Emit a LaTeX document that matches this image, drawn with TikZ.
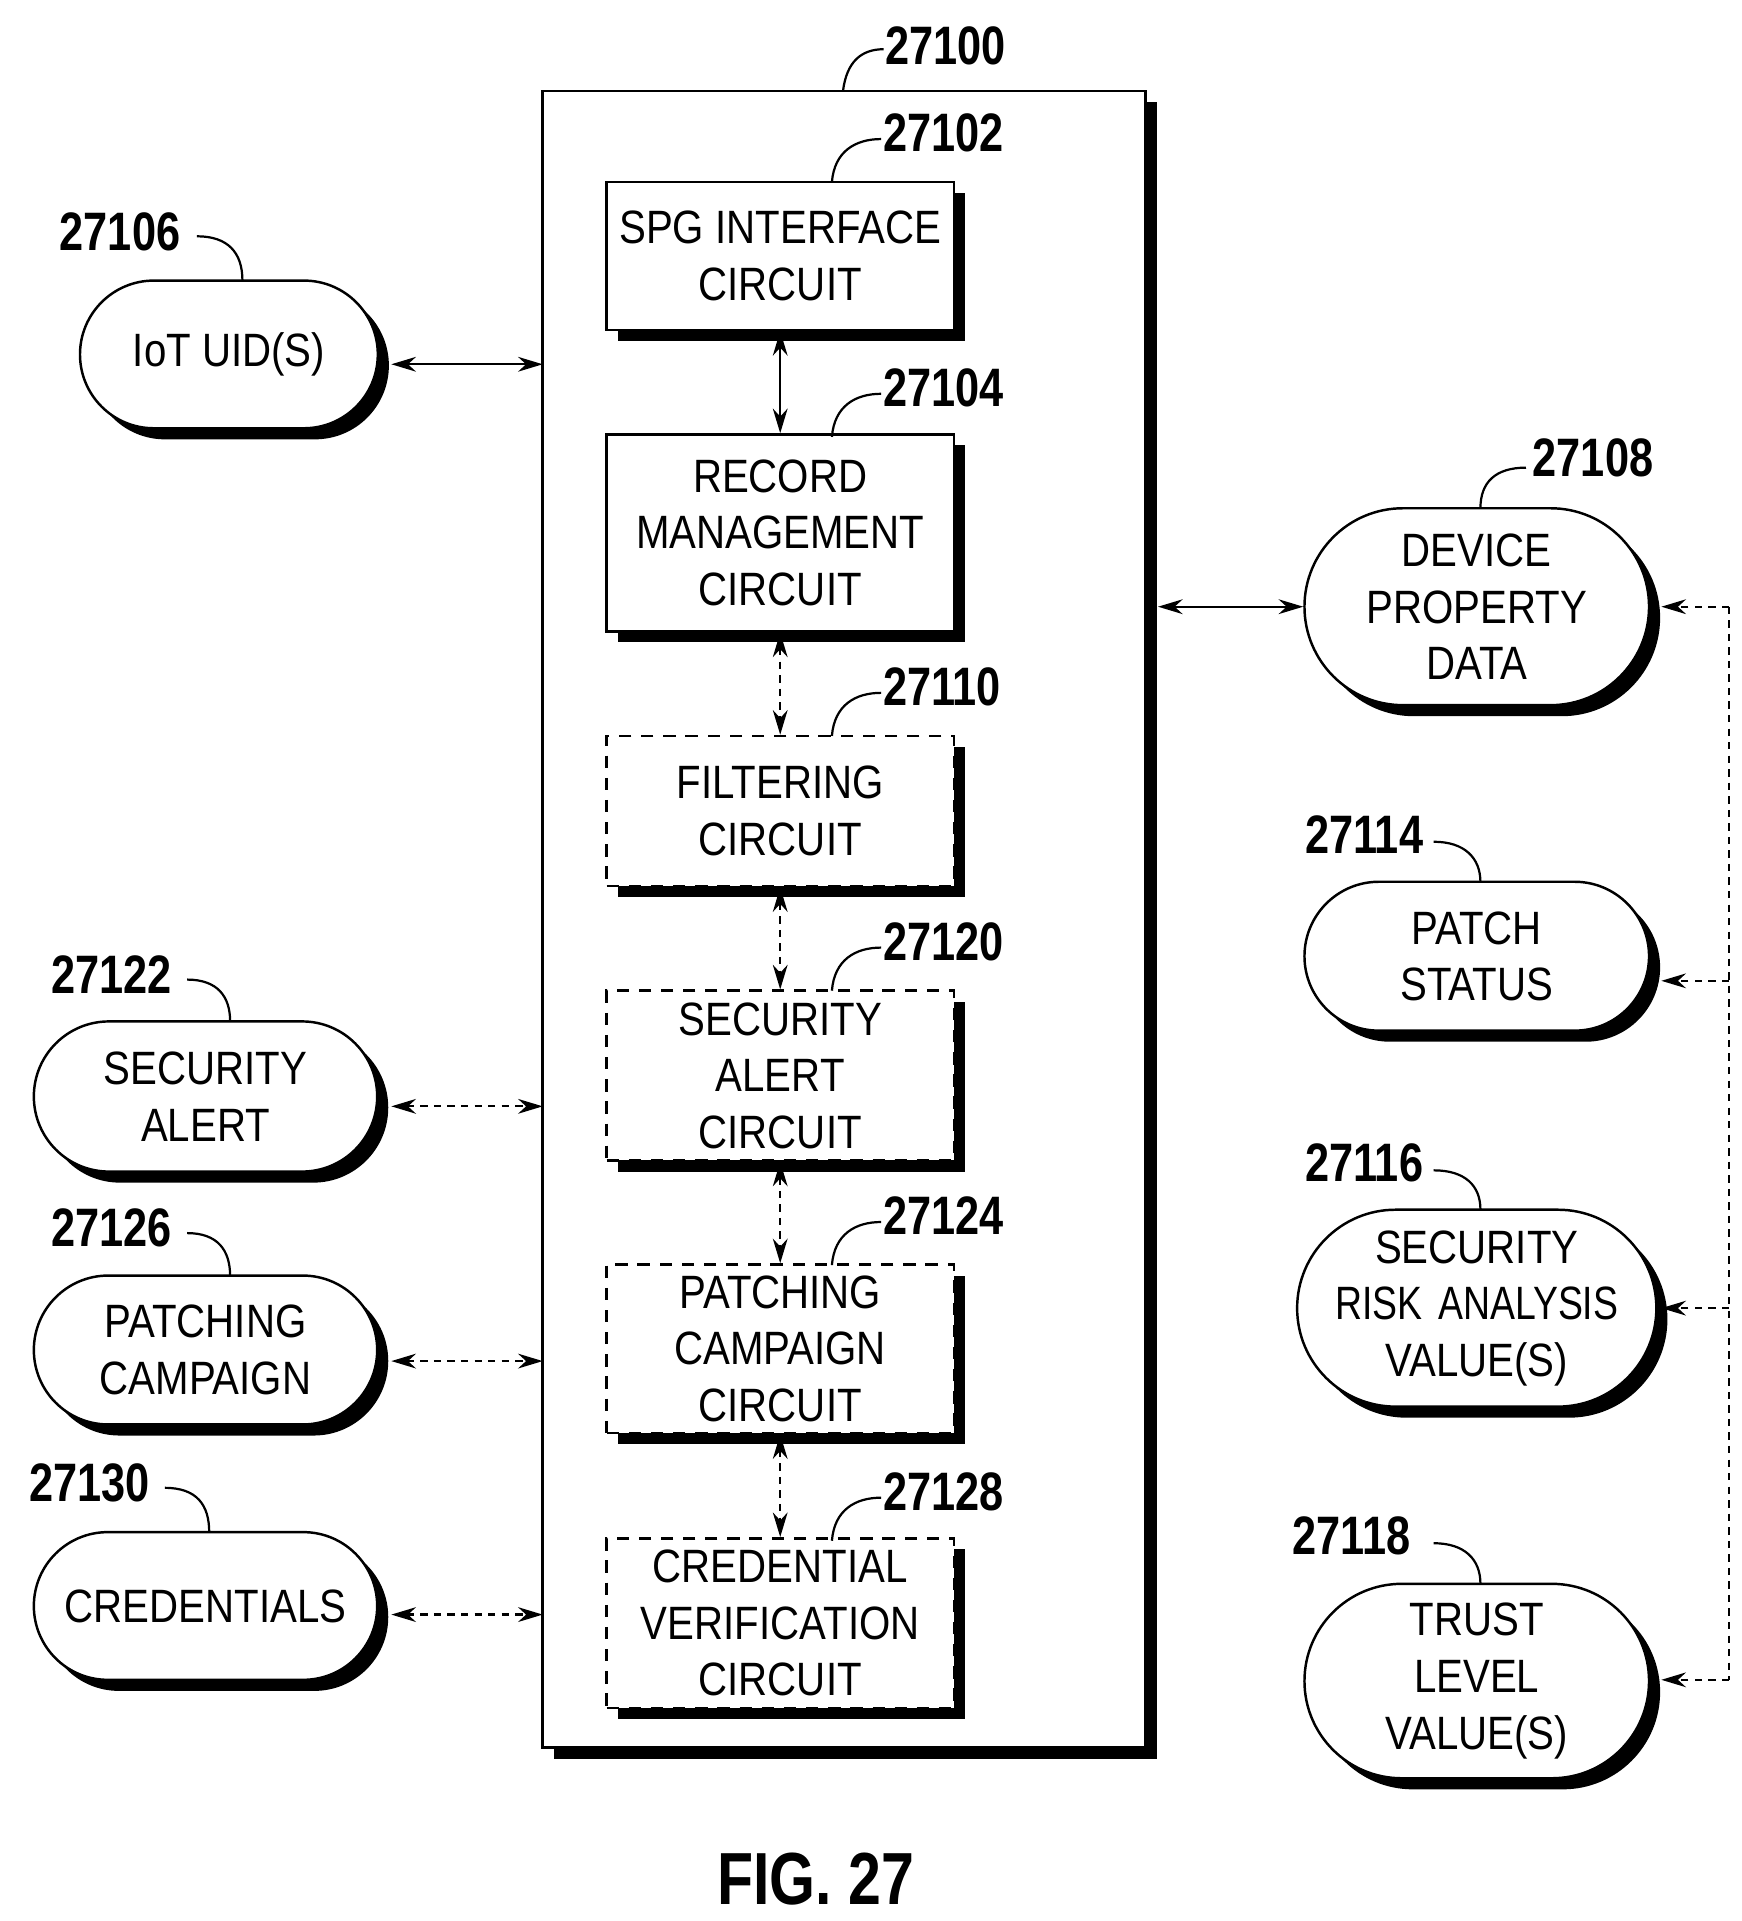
\documentclass[tikz,border=0pt]{standalone}
\usepackage{fontspec}
\setmainfont{Liberation Sans}[FakeStretch=0.86]
\usetikzlibrary{shapes.misc,arrows.meta}
\begin{document}
\begin{tikzpicture}[x=1pt,y=-1pt,
 sh/.style={preaction={fill=black,transform canvas={shift={(9pt,-9pt)}}}},
 box/.style={draw,line width=2pt,fill=white,sh,align=center,inner sep=0pt,font=\fontsize{38}{46}\selectfont},
 dbox/.style={box,dashed,dash pattern=on 10pt off 8pt},
 pill/.style={draw,line width=2pt,fill=white,sh,rounded rectangle,align=center,inner sep=0pt,font=\fontsize{38}{46}\selectfont},
 lab/.style={font=\fontsize{44}{44}\selectfont\bfseries\addfontfeature{FakeStretch=0.8}},
 ld/.style={line width=1.8pt},
 ar/.style={line width=1.8pt,{Stealth[length=20pt,width=12pt]}-{Stealth[length=20pt,width=12pt]}},
 dar/.style={ar,dash pattern=on 6pt off 5pt}]
\useasboundingbox (0,0) rectangle (1415,1561);
\node[box,minimum width=490,minimum height=1346] (main) at (686,747) {};
\node[box,minimum width=282,minimum height=120] (spg) at (634,208) {SPG INTERFACE\\CIRCUIT};
\node[box,minimum width=282,minimum height=160] (rec) at (634,433) {RECORD\\MANAGEMENT\\CIRCUIT};
\node[dbox,minimum width=282,minimum height=122] (fil) at (634,659) {FILTERING\\CIRCUIT};
\node[dbox,minimum width=282,minimum height=138] (sec) at (634,874) {SECURITY\\ALERT\\CIRCUIT};
\node[dbox,minimum width=282,minimum height=137] (pat) at (634,1096) {PATCHING\\CAMPAIGN\\CIRCUIT};
\node[dbox,minimum width=282,minimum height=138] (cre) at (634,1319) {CREDENTIAL\\VERIFICATION\\CIRCUIT};
\draw[ar] (spg.south) -- (rec.north);
\draw[dar] (rec.south) -- (fil.north);
\draw[dar] (fil.south) -- (sec.north);
\draw[dar] (sec.south) -- (pat.north);
\draw[dar] (pat.south) -- (cre.north);
\node[pill,minimum width=242,minimum height=120] (iot) at (186,288) {IoT UID(S)};
\node[pill,minimum width=279,minimum height=122] (sa) at (167,891) {SECURITY\\ALERT};
\node[pill,minimum width=279,minimum height=121] (pc) at (167,1097) {PATCHING\\CAMPAIGN};
\node[pill,minimum width=279,minimum height=120] (cr) at (167,1305) {CREDENTIALS};
\node[pill,minimum width=280,minimum height=160] (dev) at (1200,493) {DEVICE\\PROPERTY\\DATA};
\node[pill,minimum width=280,minimum height=121] (ps) at (1200,777) {PATCH\\STATUS};
\node[pill,minimum width=280,minimum height=160,text width=230] (sr) at (1200,1063) {\centering\makebox[230pt][c]{SECURITY}\\\makebox[230pt][c]{\addfontfeature{FakeStretch=0.8}RISK ANALYSIS}\\\makebox[230pt][c]{VALUE(S)}};
\node[pill,minimum width=280,minimum height=158] (tl) at (1200,1366) {TRUST\\LEVEL\\VALUE(S)};
\coordinate (m1) at (441,296); \coordinate (m2) at (441,899);
\coordinate (m3) at (441,1106); \coordinate (m4) at (441,1312);
\coordinate (m5) at (941,493);
\draw[ar] (318,296) -- (m1);
\draw[dar] (318,899) -- (m2);
\draw[dar] (318,1106) -- (m3);
\draw[dar] (318,1312) -- (m4);
\draw[ar] (m5) -- (dev.west);
\coordinate (b1) at (1405,493); \coordinate (b4) at (1405,1365);
\draw[line width=1.5pt,dash pattern=on 6pt off 5pt] (b1) -- (b4);
\foreach \y in {493,797,1063,1365}
 \draw[line width=1.8pt,dash pattern=on 6pt off 5pt,-{Stealth[length=20pt,width=12pt]}] (1405,\y) -- (1350,\y);
% labels
\node[lab,anchor=west] (l0) at (716,37) {27100};
\draw[ld] (685,74) .. controls (688,50) and (700,40) .. (718,40);
\foreach \n/\y/\t in {l2/108/27102,l4/315/27104,l10/558/27110,l20/765/27120,l24/988/27124,l28/1212/27128}{
 \node[lab,anchor=west] (\n) at (714,\y) {\t};
 \draw[ld] (676,\y+40) .. controls (678,\y+15) and (695,\y+5) .. (716,\y+5);}
\node[lab,anchor=east] (l6) at (150,188) {27106};
\draw[ld] (160,192) .. controls (185,192) and (197,205) .. (197,228);
\node[lab,anchor=east] (l22) at (143,792) {27122};
\draw[ld] (152,796) .. controls (177,796) and (187,810) .. (187,830);
\node[lab,anchor=east] (l26) at (143,998) {27126};
\draw[ld] (152,1002) .. controls (177,1002) and (187,1016) .. (187,1037);
\node[lab,anchor=east] (l30) at (125,1205) {27130};
\draw[ld] (134,1209) .. controls (160,1209) and (170,1223) .. (170,1245);
\node[lab,anchor=west] (l8) at (1242,372) {27108};
\draw[ld] (1240,380) .. controls (1215,380) and (1203,392) .. (1203,413);
\node[lab,anchor=east] (l14) at (1160,678) {27114};
\draw[ld] (1165,684) .. controls (1190,684) and (1203,697) .. (1203,717);
\node[lab,anchor=east] (l16) at (1160,945) {27116};
\draw[ld] (1165,951) .. controls (1190,951) and (1203,963) .. (1203,983);
\node[lab,anchor=east] (l18) at (1150,1248) {27118};
\draw[ld] (1165,1254) .. controls (1190,1254) and (1203,1267) .. (1203,1287);
\node[font=\fontsize{60}{60}\selectfont\bfseries\addfontfeature{FakeStretch=0.8}] (fig) at (663,1527) {FIG. 27};
\end{tikzpicture}
\end{document}
